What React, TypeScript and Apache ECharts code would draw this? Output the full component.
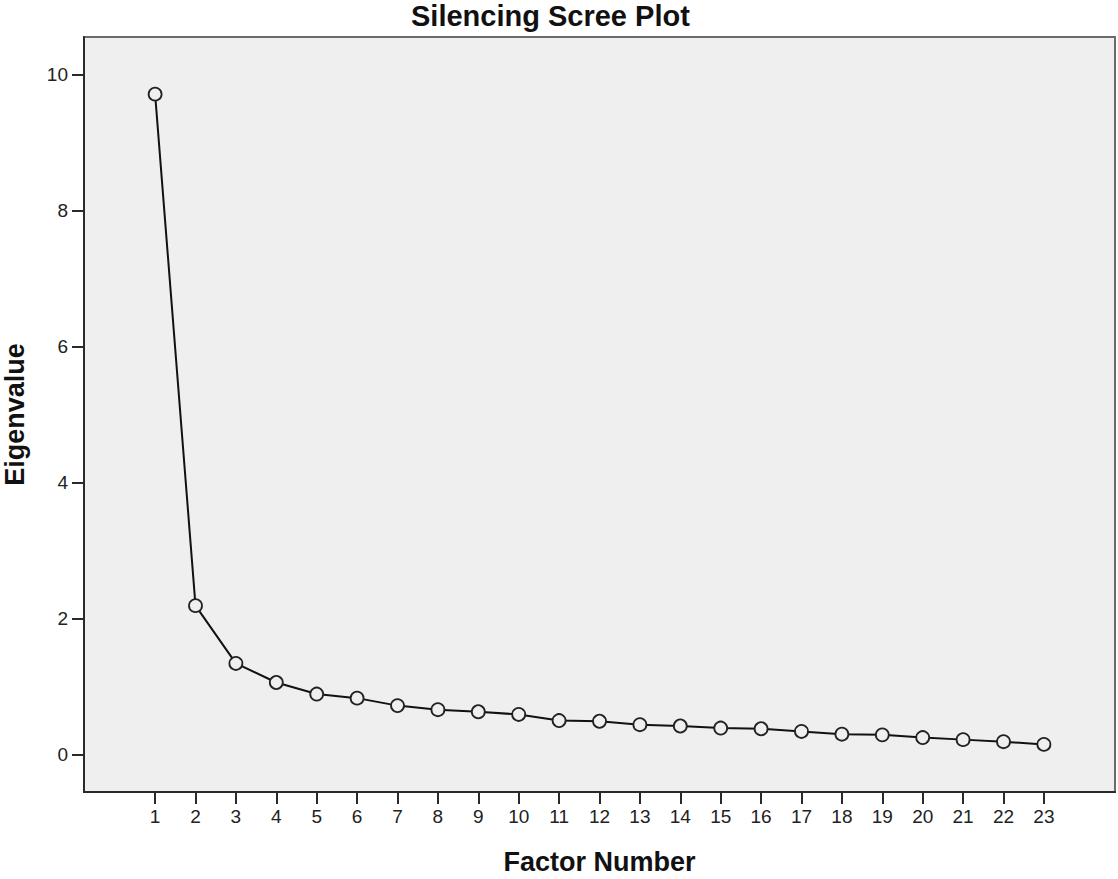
import React, { useEffect, useRef } from "react";
import * as echarts from "echarts";

const titleText = "Silencing Scree Plot";
const xAxisTitle = "Factor Number";
const yAxisTitle = "Eigenvalue";

const factorNumbers = [1, 2, 3, 4, 5, 6, 7, 8, 9, 10, 11, 12, 13, 14, 15, 16, 17, 18, 19, 20, 21, 22, 23];
const eigenvalues = [
  9.71, 2.19, 1.34, 1.06, 0.89, 0.83, 0.72, 0.66, 0.63, 0.59, 0.50, 0.49,
  0.44, 0.42, 0.39, 0.38, 0.34, 0.30, 0.29, 0.25, 0.22, 0.19, 0.15,
];
const yTickValues = [0, 2, 4, 6, 8, 10];

const FONT = "'Liberation Sans', Arial, Helvetica, sans-serif";

export default function App() {
  const ref = useRef<HTMLDivElement>(null);

  useEffect(() => {
    if (!ref.current) return;
    const chart = echarts.init(ref.current, undefined, { renderer: "svg" });
    const points = factorNumbers.map((f, i) => [f, eigenvalues[i]]);
    chart.setOption({
      animation: false,
      backgroundColor: "#ffffff",
      title: {
        text: titleText,
        left: 411,
        top: 1,
        padding: 0,
        textStyle: { fontFamily: FONT, fontWeight: "bold", fontSize: 29, color: "#111" },
      },
      grid: {
        left: 84,
        right: 3,
        top: 37,
        bottom: 87,
        outerBoundsMode: "none",
        containLabel: false,
        show: true,
        backgroundColor: "#efefef",
        borderColor: "#6b6b6b",
        borderWidth: 2,
      },
      xAxis: {
        type: "value",
        min: -0.76,
        max: 24.76,
        name: xAxisTitle,
        nameLocation: "middle",
        nameGap: 56,
        nameTextStyle: { fontFamily: FONT, fontWeight: "bold", fontSize: 27, color: "#111" },
        axisLine: { show: true, onZero: false, lineStyle: { color: "#2a2a2a", width: 2 } },
        axisTick: { show: true, length: 12, customValues: factorNumbers, lineStyle: { color: "#2a2a2a", width: 2 } },
        axisLabel: { customValues: factorNumbers, fontFamily: FONT, fontSize: 19, color: "#222", margin: 15 },
        splitLine: { show: false },
      },
      yAxis: {
        type: "value",
        min: -0.55,
        max: 10.55,
        name: yAxisTitle,
        nameLocation: "middle",
        nameGap: 56,
        nameTextStyle: { fontFamily: FONT, fontWeight: "bold", fontSize: 27, color: "#111" },
        axisLine: { show: true, onZero: false, lineStyle: { color: "#2a2a2a", width: 2 } },
        axisTick: { show: true, length: 12, customValues: yTickValues, lineStyle: { color: "#2a2a2a", width: 2 } },
        axisLabel: { customValues: yTickValues, fontFamily: FONT, fontSize: 19, color: "#222", margin: 16 },
        splitLine: { show: false },
      },
      series: [
        {
          type: "line",
          data: points,
          symbol: "circle",
          symbolSize: 13,
          lineStyle: { color: "#111", width: 2 },
          itemStyle: { color: "#efefef", borderColor: "#222", borderWidth: 1.8 },
        },
      ],
    });
    return () => chart.dispose();
  }, []);

  return (
    <div
      ref={ref}
      style={{ position: "absolute", left: 0, top: 0, width: 1118, height: 879 }}
    />
  );
}
